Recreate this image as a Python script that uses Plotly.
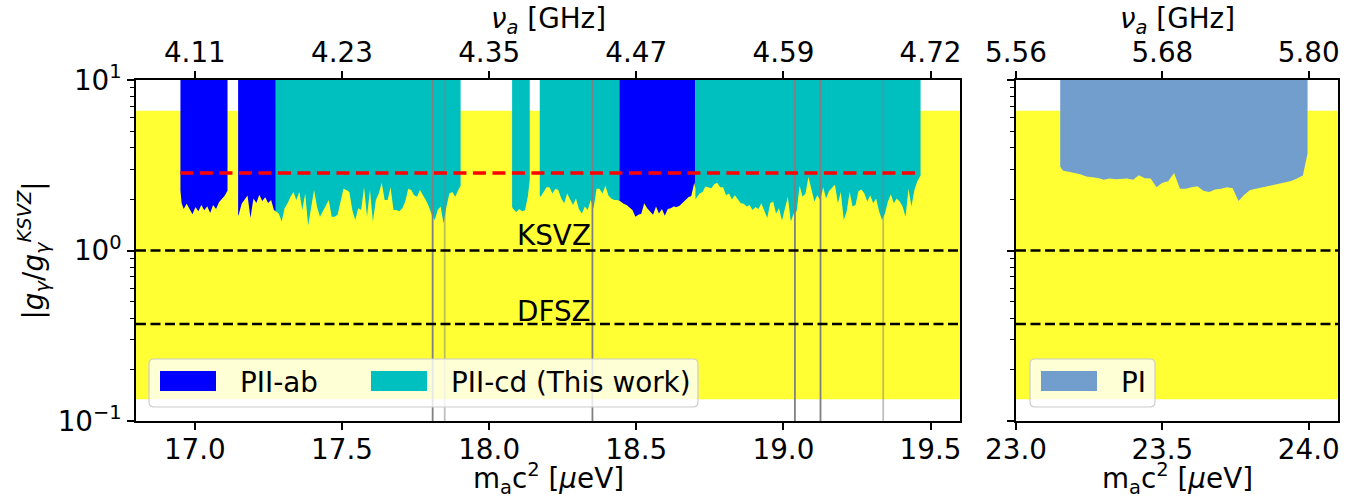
import numpy as np
import plotly.graph_objects as go

# ---------------- data ----------------
# axion mass grid [ueV] and lower edge of the excluded coupling |g/g_KSVZ|
pii_ab_1_mass = [16.951, 16.955, 16.962, 16.972, 16.982, 16.992, 17.002, 17.012, 17.022,
                 17.032, 17.042, 17.052, 17.062, 17.072, 17.082, 17.092, 17.102, 17.111]
pii_ab_1_limit = [2.25, 1.9, 1.75, 1.88, 1.76, 1.63, 1.80, 1.70, 1.85,
                  1.72, 1.82, 1.66, 1.85, 1.75, 1.92, 2.0, 2.1, 2.25]

pii_ab_2_mass = [17.147, 17.149, 17.159, 17.169, 17.179, 17.189, 17.199, 17.209, 17.219,
                 17.229, 17.239, 17.249, 17.259, 17.269, 17.275]
pii_ab_2_limit = [1.6, 1.62, 1.88, 2.0, 2.1, 1.55, 2.02, 1.9, 2.12,
                  1.95, 2.05, 1.9, 1.98, 1.72, 1.7]

pii_cd_1_mass = [17.275,
                 17.285, 17.295, 17.305, 17.315, 17.325, 17.335, 17.345, 17.355, 17.365, 17.375,
                 17.385, 17.395, 17.405, 17.415, 17.425, 17.435, 17.445, 17.455, 17.465, 17.475,
                 17.485, 17.495, 17.505, 17.515, 17.525, 17.535, 17.545, 17.555, 17.565, 17.575,
                 17.585, 17.595, 17.605, 17.615, 17.625, 17.635, 17.645, 17.655, 17.665, 17.675,
                 17.685, 17.695, 17.705, 17.715, 17.725, 17.735, 17.745, 17.755, 17.765, 17.775,
                 17.785, 17.795, 17.805, 17.815, 17.825, 17.835, 17.845, 17.855, 17.865, 17.875,
                 17.885, 17.895, 17.903]
pii_cd_1_limit = [1.7,
                  1.65, 1.48, 1.77, 1.89, 2.07, 2.2, 1.98, 2.2, 1.73, 2.16,
                  1.4, 1.77, 2.26, 1.81, 1.58, 1.7, 1.85, 1.98, 1.58, 1.58,
                  1.62, 1.98, 2.3, 2.26, 2.2, 1.73, 1.51, 1.77, 1.73, 2.35,
                  1.58, 2.26, 1.48, 1.98, 2.16, 2.5, 1.98, 1.98, 2.35, 1.73,
                  1.73, 1.7, 1.77, 1.94, 2.3, 2.26, 2.11, 2.07, 2.26, 2.11,
                  1.98, 1.81, 1.62, 1.51, 1.73, 1.81, 1.44, 1.81, 2.16, 2.2,
                  2.07, 2.26, 2.4]

pii_cd_2_mass = [18.078, 18.082, 18.092, 18.102, 18.112, 18.122, 18.132, 18.138]
pii_cd_2_limit = [1.8, 1.75, 1.68, 1.75, 1.7, 1.72, 2.1, 2.6]

pii_cd_3_mass = [18.172,
                 18.175, 18.185, 18.195, 18.205, 18.215, 18.225, 18.235, 18.245, 18.255, 18.265,
                 18.275, 18.285, 18.295, 18.305, 18.315, 18.325, 18.335, 18.345, 18.355, 18.365,
                 18.375, 18.385, 18.395, 18.405, 18.415, 18.425, 18.435, 18.442]
pii_cd_3_limit = [2.1,
                  2.07, 2.2, 2.35, 2.35, 2.16, 2.3, 2.26, 2.02, 1.89, 2.16,
                  1.98, 1.85, 2.02, 1.75, 1.65, 1.81, 1.73, 1.98, 1.77, 2.3,
                  2.3, 2.16, 2.4, 2.11, 2.02, 1.98, 1.98, 1.96]

pii_ab_3_mass = [18.442,
                 18.447, 18.457, 18.467, 18.477, 18.487, 18.497, 18.507, 18.517, 18.527, 18.537,
                 18.547, 18.557, 18.567, 18.577, 18.587, 18.597, 18.607, 18.617, 18.627, 18.637,
                 18.647, 18.657, 18.667, 18.677, 18.687, 18.697, 18.701]
pii_ab_3_limit = [1.96,
                  1.94, 1.88, 1.85, 1.8, 1.73, 1.58, 1.62, 1.64, 1.89, 1.77,
                  1.7, 1.62, 1.81, 1.65, 1.75, 1.6, 1.75, 1.77, 1.81, 1.8,
                  1.83, 1.9, 1.96, 2.05, 2.09, 2.5, 2.3]

pii_cd_4_mass = [18.701,
                 18.715, 18.725, 18.735, 18.745, 18.755, 18.765, 18.775, 18.785, 18.795, 18.805,
                 18.815, 18.825, 18.835, 18.845, 18.855, 18.865, 18.875, 18.885, 18.895, 18.905,
                 18.915, 18.925, 18.935, 18.945, 18.955, 18.965, 18.975, 18.985, 18.995, 19.005,
                 19.015, 19.025, 19.035, 19.045, 19.055, 19.065, 19.075, 19.085, 19.095, 19.105,
                 19.115, 19.125, 19.135, 19.145, 19.155, 19.165, 19.175, 19.185, 19.195, 19.205,
                 19.215, 19.225, 19.235, 19.245, 19.255, 19.265, 19.275, 19.285, 19.295, 19.305,
                 19.315, 19.325, 19.335, 19.345, 19.355, 19.365, 19.375, 19.385, 19.395, 19.405,
                 19.415, 19.425, 19.435, 19.445, 19.455, 19.466]
pii_cd_4_limit = [2.0,
                  2.16, 2.2, 2.37, 2.35, 2.32, 2.45, 2.5, 2.35, 2.35, 2.11,
                  2.16, 2.0, 2.11, 2.0, 1.89, 1.88, 1.81, 1.85, 1.73, 1.8,
                  1.75, 1.89, 1.7, 1.55, 1.89, 1.94, 1.65, 1.77, 1.5, 1.73,
                  2.07, 1.48, 1.65, 1.7, 2.4, 2.07, 2.16, 2.7, 2.28, 1.94,
                  2.11, 1.98, 2.35, 2.02, 2.23, 2.32, 2.43, 1.89, 2.2, 1.51,
                  1.7, 2.2, 1.81, 1.85, 2.23, 2.28, 2.16, 1.94, 2.11, 1.89,
                  2.02, 1.7, 1.51, 1.65, 1.94, 2.14, 1.89, 2.02, 1.94, 1.81,
                  1.58, 2.3, 1.81, 2.26, 2.55, 2.75]

pi_mass = [23.151,
           23.16, 23.18, 23.20, 23.22, 23.24, 23.26, 23.28, 23.30, 23.32, 23.34,
           23.36, 23.38, 23.40, 23.42, 23.44, 23.46, 23.48, 23.50, 23.52, 23.54,
           23.56, 23.58, 23.60, 23.62, 23.64, 23.66, 23.68, 23.70, 23.72, 23.74,
           23.76, 23.78, 23.80, 23.82, 23.84, 23.86, 23.88, 23.90, 23.92, 23.94,
           23.96, 23.98, 23.996]
pi_limit = [3.1,
            2.95, 2.9, 2.84, 2.8, 2.72, 2.7, 2.66, 2.6, 2.64, 2.62,
            2.64, 2.64, 2.6, 2.76, 2.65, 2.64, 2.35, 2.5, 2.55, 2.85,
            2.3, 2.3, 2.35, 2.38, 2.24, 2.2, 2.28, 2.3, 2.35, 2.32,
            1.95, 2.12, 2.26, 2.3, 2.35, 2.38, 2.42, 2.46, 2.5, 2.56,
            2.64, 2.75, 3.7]

# reference lines and marks
ksvz_value = 1.0
dfsz_value = 0.37
target_value = 2.85                  # red dashed target sensitivity
target_mass_span = [16.951, 19.466]
band_low, band_high = 0.134, 6.6     # yellow band
excluded_lines_mass = [17.808, 17.849, 18.351, 19.039, 19.126, 19.339]
excluded_lines_alpha = [1.0, 0.5, 1.0, 1.0, 1.0, 0.5]
ksvz_label_pos = (18.222, 1.22)
dfsz_label_pos = (18.222, 0.44)

# axes
left_range = [16.8, 19.6]
right_range = [23.0, 24.1]
y_top, y_bottom = 10.0, 0.1
left_ticks = [17.0, 17.5, 18.0, 18.5, 19.0, 19.5]
left_ticktext = ["17.0", "17.5", "18.0", "18.5", "19.0", "19.5"]
left_freq_text = ["4.11", "4.23", "4.35", "4.47", "4.59", "4.72"]
right_ticks = [23.0, 23.5, 24.0]
right_ticktext = ["23.0", "23.5", "24.0"]
right_freq_text = ["5.56", "5.68", "5.80"]
y_ticks = [0.1, 1, 10]
y_ticktext = ["10<sup>\u22121</sup>", "10<sup>0</sup>", "10<sup>1</sup>"]
y_minor = [v * d for d in (0.1, 1) for v in range(2, 10)]

BLUE = "#0000FF"
CYAN = "#00BFBF"
STEEL = "#729ECE"
YELLOW = "#FFFF33"
FONT = "DejaVu Sans"
FS = 27.8
W, H = 1352, 498

fig = go.Figure()


def band(xr, xa, ya):
    fig.add_trace(go.Scatter(x=[xr[0], xr[1], xr[1], xr[0]],
                             y=[band_low, band_low, band_high, band_high],
                             fill="toself", fillcolor=YELLOW, mode="lines",
                             line=dict(width=0), showlegend=False, hoverinfo="skip",
                             xaxis=xa, yaxis=ya))


def excl(mass, limit, color, name, xa, ya):
    x = [mass[0]] + list(mass) + [mass[-1]]
    y = [y_top] + list(limit) + [y_top]
    fig.add_trace(go.Scatter(x=x, y=y, fill="toself", fillcolor=color, mode="lines",
                             line=dict(width=0, color=color), name=name,
                             showlegend=False, hoverinfo="skip", xaxis=xa, yaxis=ya))


band(left_range, "x", "y")
band(right_range, "x2", "y2")

excl(pii_ab_1_mass, pii_ab_1_limit, BLUE, "PII-ab", "x", "y")
excl(pii_ab_2_mass, pii_ab_2_limit, BLUE, "PII-ab", "x", "y")
excl(pii_ab_3_mass, pii_ab_3_limit, BLUE, "PII-ab", "x", "y")
excl(pii_cd_1_mass, pii_cd_1_limit, CYAN, "PII-cd (This work)", "x", "y")
excl(pii_cd_2_mass, pii_cd_2_limit, CYAN, "PII-cd (This work)", "x", "y")
excl(pii_cd_3_mass, pii_cd_3_limit, CYAN, "PII-cd (This work)", "x", "y")
excl(pii_cd_4_mass, pii_cd_4_limit, CYAN, "PII-cd (This work)", "x", "y")
excl(pi_mass, pi_limit, STEEL, "PI", "x2", "y2")

for m, a in zip(excluded_lines_mass, excluded_lines_alpha):
    fig.add_trace(go.Scatter(x=[m, m], y=[y_bottom, y_top], mode="lines",
                             line=dict(color="#808080", width=1.8), opacity=a,
                             showlegend=False, hoverinfo="skip", xaxis="x", yaxis="y"))

fig.add_trace(go.Scatter(x=target_mass_span, y=[target_value, target_value], mode="lines",
                         line=dict(color="#FF0000", width=3.4, dash="13px,6.5px"),
                         showlegend=False, hoverinfo="skip", xaxis="x", yaxis="y"))

for xr, xa, ya in ((left_range, "x", "y"), (right_range, "x2", "y2")):
    for v in (ksvz_value, dfsz_value):
        fig.add_trace(go.Scatter(x=xr, y=[v, v], mode="lines",
                                 line=dict(color="black", width=2.5, dash="10px,4.5px"),
                                 showlegend=False, hoverinfo="skip", xaxis=xa, yaxis=ya))

# invisible anchors so the top (frequency) axes are drawn
fig.add_trace(go.Scatter(x=[left_ticks[0]], y=[1], mode="markers", marker=dict(opacity=0),
                         showlegend=False, hoverinfo="skip", xaxis="x3", yaxis="y"))
fig.add_trace(go.Scatter(x=[right_ticks[0]], y=[1], mode="markers", marker=dict(opacity=0),
                         showlegend=False, hoverinfo="skip", xaxis="x4", yaxis="y2"))


def px(p):
    return p / W


def py(p):
    return 1 - p / H


XL = [px(136), px(960)]
XR = [px(1016), px(1338)]
YD = [py(421), py(80)]

tickfont = dict(family=FONT, size=FS, color="black")
common_x = dict(showgrid=False, zeroline=False, showline=True, linecolor="black",
                linewidth=1.5, ticks="outside", ticklen=7, tickwidth=1.5,
                tickcolor="black", tickfont=tickfont, automargin=False)
common_y = dict(type="log", range=[np.log10(y_bottom), np.log10(y_top)], domain=YD,
                showgrid=False, zeroline=False, showline=True, linecolor="black",
                linewidth=1.5, mirror=True, ticks="outside", ticklen=7, tickwidth=1.5,
                tickcolor="black", tickvals=y_ticks, tickfont=tickfont, automargin=False,
                minor=dict(ticks="outside", ticklen=4, tickwidth=1.2, tickcolor="black",
                           tickvals=y_minor, showgrid=False))

xtitle = "m<sub>a</sub>c<sup>2</sup> [<i>\u03bc</i>eV]"
ttitle = "<i>\u03bd<sub>a</sub></i> [GHz]"
ytitle = "|<i>g<sub>\u03b3</sub></i>/<i>g<sub>\u03b3</sub><sup>KSVZ</sup></i>|"


def txt(x, y, text, xref="paper", yref="paper", xanchor="center", angle=0):
    return dict(x=x, y=y, xref=xref, yref=yref, text=text, showarrow=False,
                xanchor=xanchor, yanchor="middle", textangle=angle,
                font=dict(family=FONT, size=FS, color="black"))


annotations = [
    txt((px(136) + px(960)) / 2, py(478), xtitle),
    txt((px(1016) + px(1338)) / 2, py(478), xtitle),
    txt((px(136) + px(960)) / 2, py(20), ttitle),
    txt((px(1016) + px(1338)) / 2, py(20), ttitle),
    txt(px(34), (py(421) + py(80)) / 2, ytitle, angle=-90),
    txt(ksvz_label_pos[0], np.log10(ksvz_label_pos[1]), "KSVZ", "x", "y"),
    txt(dfsz_label_pos[0], np.log10(dfsz_label_pos[1]), "DFSZ", "x", "y"),
]

# legends (matplotlib-style boxes with patch handles)
legend_entries = [
    # (frame x0, x1, handles: list of (patch_x0, color, text_x, text))
    (149, 698, [(160, BLUE, 238, "PII-ab"), (371, CYAN, 449, "PII-cd (This work)")]),
    (1030, 1155, [(1041, STEEL, 1119, "PI")]),
]
shapes = []
fy0, fy1 = 359, 407
for fx0, fx1, handles in legend_entries:
    r = 5
    path = (f"M {px(fx0 + r)},{py(fy0)} L {px(fx1 - r)},{py(fy0)} "
            f"Q {px(fx1)},{py(fy0)} {px(fx1)},{py(fy0 + r)} "
            f"L {px(fx1)},{py(fy1 - r)} Q {px(fx1)},{py(fy1)} {px(fx1 - r)},{py(fy1)} "
            f"L {px(fx0 + r)},{py(fy1)} Q {px(fx0)},{py(fy1)} {px(fx0)},{py(fy1 - r)} "
            f"L {px(fx0)},{py(fy0 + r)} Q {px(fx0)},{py(fy0)} {px(fx0 + r)},{py(fy0)} Z")
    shapes.append(dict(type="path", path=path, xref="paper", yref="paper",
                       fillcolor="rgba(255,255,255,0.8)",
                       line=dict(color="#CCCCCC", width=1.2), layer="above"))
    for hx, color, tx, label in handles:
        shapes.append(dict(type="rect", xref="paper", yref="paper",
                           x0=px(hx), x1=px(hx + 56), y0=py(391), y1=py(371),
                           fillcolor=color, line=dict(width=0), layer="above"))
        annotations.append(txt(px(tx), py(382), label, xanchor="left"))

fig.update_layout(
    width=W, height=H,
    margin=dict(l=0, r=0, t=0, b=0),
    paper_bgcolor="white", plot_bgcolor="white",
    font=dict(family=FONT, size=FS, color="black"),
    showlegend=False,
    xaxis=dict(common_x, domain=XL, range=left_range, anchor="y",
               tickvals=left_ticks, ticktext=left_ticktext, ticklabelstandoff=-4),
    xaxis3=dict(common_x, overlaying="x", side="top", anchor="y", range=left_range,
                tickvals=left_ticks, ticktext=left_freq_text, ticklabelstandoff=-2),
    xaxis2=dict(common_x, domain=XR, range=right_range, anchor="y2",
                tickvals=right_ticks, ticktext=right_ticktext, ticklabelstandoff=-4),
    xaxis4=dict(common_x, overlaying="x2", side="top", anchor="y2", range=right_range,
                tickvals=right_ticks, ticktext=right_freq_text, ticklabelstandoff=-2),
    yaxis=dict(common_y, anchor="x", ticktext=y_ticktext),
    yaxis2=dict(common_y, anchor="x2", showticklabels=False),
    annotations=annotations,
    shapes=shapes,
)

fig.write_html("out.html", config={"displayModeBar": False},
               post_script="document.body.style.margin='0px';")
